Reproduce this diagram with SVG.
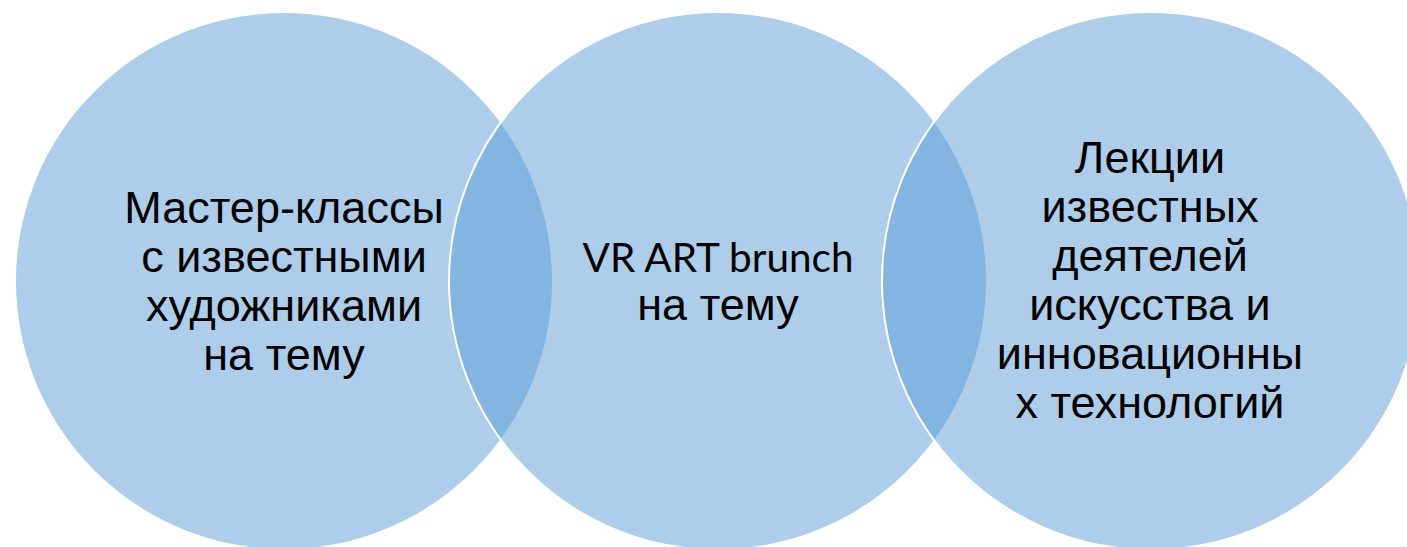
<svg xmlns="http://www.w3.org/2000/svg" width="1407" height="547" viewBox="0 0 1407 547">
<style>
.c{fill:#5B9BD5;fill-opacity:0.5;stroke:#FFFFFF;stroke-width:2}
.t{font-family:"Liberation Sans",Arial,sans-serif;font-size:45px;fill:#000000;text-anchor:middle}
.v{font-family:Lato,"Liberation Sans",sans-serif;font-size:40px;fill:#000000;text-anchor:middle}
</style>
<rect width="1407" height="547" fill="#FFFFFF"/>
<g id="node-left">
<circle class="c" cx="284" cy="281" r="269"/>
<text class="t"><tspan x="284" y="223">Мастер-классы</tspan><tspan x="284" y="272">с известными</tspan><tspan x="284" y="321">художниками</tspan><tspan x="284" y="370">на тему</tspan></text>
</g>
<g id="node-middle">
<circle class="c" cx="718" cy="281" r="269"/>
<text class="v" x="718" y="272" textLength="271" lengthAdjust="spacingAndGlyphs">VR ART brunch</text>
<text class="t" x="718" y="320">на тему</text>
</g>
<g id="node-right">
<circle class="c" cx="1151" cy="281" r="269"/>
<text class="t"><tspan x="1150" y="173">Лекции</tspan><tspan x="1150" y="222">известных</tspan><tspan x="1150" y="271">деятелей</tspan><tspan x="1150" y="320">искусства и</tspan><tspan x="1150" y="369">инновационны</tspan><tspan x="1150" y="418">х технологий</tspan></text>
</g>
<g id="connectors"></g>
</svg>
